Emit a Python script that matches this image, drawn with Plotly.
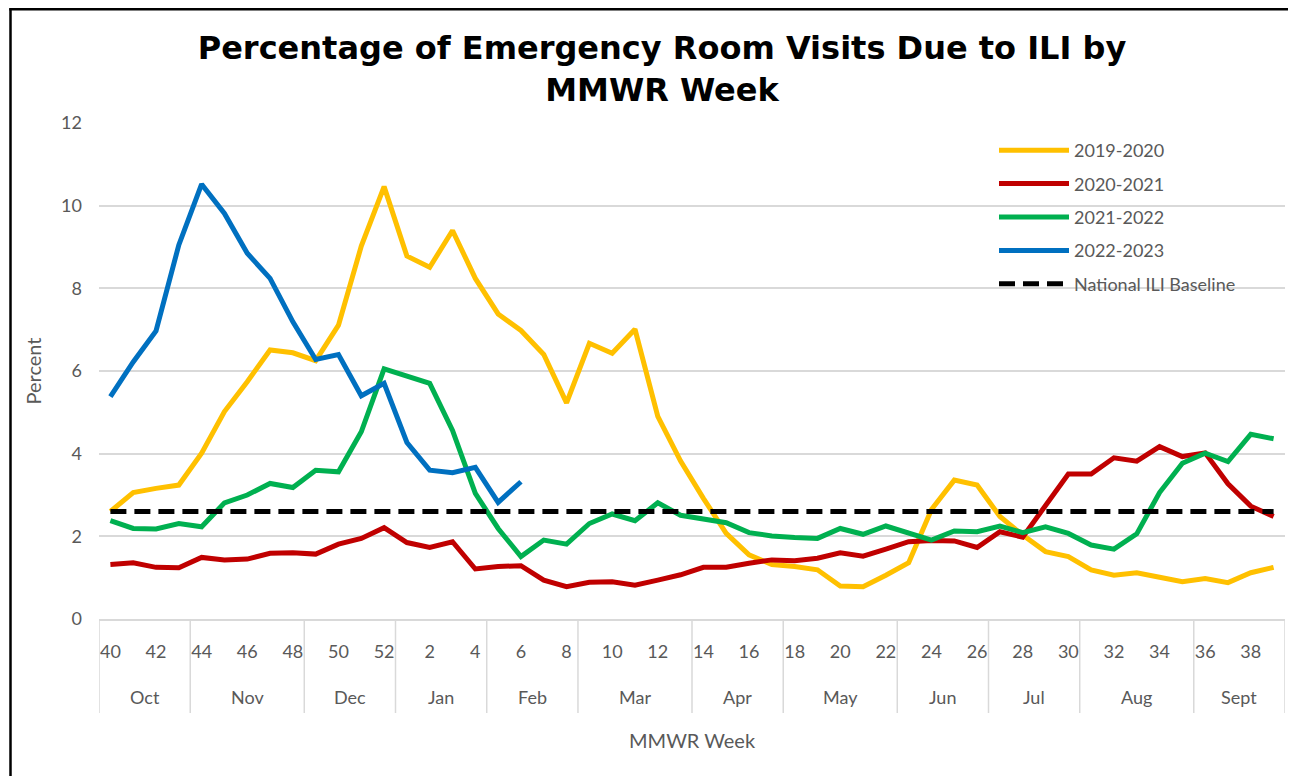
import plotly.graph_objects as go

weeks = [40, 41, 42, 43, 44, 45, 46, 47, 48, 49, 50, 51, 52] + list(range(1, 40))
months = ["Oct", "Nov", "Dec", "Jan", "Feb", "Mar", "Apr", "May", "Jun", "Jul", "Aug", "Sept"]
weeks_per_month = [4, 5, 4, 4, 4, 5, 4, 5, 4, 4, 5, 4]

s2019_2020 = [2.60, 3.06, 3.16, 3.24, 4.01, 5.02, 5.74, 6.51, 6.44, 6.25, 7.11, 9.02, 10.46,
              8.78, 8.51, 9.40, 8.24, 7.38, 6.98, 6.40, 5.23, 6.67, 6.43, 7.01, 4.90, 3.82,
              2.92, 2.07, 1.55, 1.32, 1.27, 1.19, 0.80, 0.78, 1.06, 1.36, 2.65, 3.36, 3.24,
              2.48, 2.03, 1.63, 1.51, 1.19, 1.06, 1.12, 1.01, 0.90, 0.98, 0.88, 1.12, 1.25]
s2020_2021 = [1.32, 1.36, 1.25, 1.24, 1.49, 1.43, 1.45, 1.59, 1.60, 1.57, 1.81, 1.95, 2.21,
              1.85, 1.73, 1.87, 1.21, 1.27, 1.29, 0.94, 0.78, 0.89, 0.90, 0.82, 0.94, 1.07,
              1.25, 1.25, 1.35, 1.43, 1.41, 1.47, 1.60, 1.52, 1.69, 1.87, 1.90, 1.89, 1.73,
              2.11, 1.98, 2.73, 3.51, 3.51, 3.90, 3.82, 4.17, 3.93, 4.02, 3.27, 2.73, 2.48]
s2021_2022 = [2.38, 2.19, 2.18, 2.31, 2.23, 2.81, 3.00, 3.28, 3.18, 3.60, 3.56, 4.53, 6.05,
              5.88, 5.70, 4.56, 3.04, 2.19, 1.51, 1.91, 1.81, 2.31, 2.54, 2.38, 2.81, 2.51,
              2.42, 2.33, 2.09, 2.01, 1.97, 1.95, 2.19, 2.05, 2.25, 2.07, 1.91, 2.13, 2.11,
              2.25, 2.09, 2.23, 2.07, 1.79, 1.69, 2.06, 3.06, 3.77, 4.01, 3.81, 4.47, 4.36]
s2022_2023 = [5.38, 6.22, 6.97, 9.05, 10.52, 9.81, 8.85, 8.24, 7.19, 6.28, 6.40, 5.40, 5.70,
              4.27, 3.60, 3.54, 3.67, 2.82, 3.32]
baseline_value = 2.6

idx = list(range(len(weeks)))
gray = "#595959"
axis_font = "Lato, Open Sans, sans-serif"

series = [
    ("2019-2020", s2019_2020, "#FFC000", None),
    ("2020-2021", s2020_2021, "#C00000", None),
    ("2021-2022", s2021_2022, "#00B050", None),
    ("2022-2023", s2022_2023, "#0070C0", None),
    ("National ILI Baseline", [baseline_value] * len(weeks), "#000000", "16px,8px"),
]

fig = go.Figure()
for name, vals, color, dash in series:
    fig.add_trace(go.Scatter(
        x=idx[:len(vals)], y=vals, mode="lines", name=name, legendgroup=name,
        line=dict(color=color, width=5, dash=dash),
    ))

# page offset (body margin) of 8px; figure sized to avoid scrollbars
OFF = 8
W, H = 1280, 768
PL, PR, PT, PB = 99, 1285, 123, 619  # plot area in page pixels
L, T = PL - OFF, PT - OFF
R = W - (PR - OFF)
B = H - (PB - OFF)
pw, ph = PR - PL, PB - PT

def py_paper(py):
    return (PB - py) / ph

def px_paper(px):
    return (px - PL) / pw

shapes = []
annotations = []
start = 0
bounds = [0]
for m, n in zip(months, weeks_per_month):
    annotations.append(dict(x=start + (n - 1) / 2, y=py_paper(697), xref="x", yref="paper",
                            text=m, showarrow=False, yanchor="middle",
                            font=dict(size=18, color=gray, family=axis_font)))
    start += n
    bounds.append(start)
for b in bounds:
    shapes.append(dict(type="line", xref="x", yref="paper", x0=b - 0.5, x1=b - 0.5,
                       y0=0, y1=py_paper(713), line=dict(color="#d9d9d9", width=1.5)))

# outer chart border: left and top edges are visible
border = dict(color="#000000", width=2.5)
shapes.append(dict(type="line", xref="paper", yref="paper",
                   x0=px_paper(10.5), x1=px_paper(10.5),
                   y0=py_paper(800), y1=py_paper(8.2), line=border, layer="below"))
shapes.append(dict(type="line", xref="paper", yref="paper",
                   x0=px_paper(9.3), x1=px_paper(1320),
                   y0=py_paper(9.3), y1=py_paper(9.3), line=border, layer="below"))

annotations.append(dict(x=0.5, y=py_paper(740), xref="paper", yref="paper",
                        text="MMWR Week", showarrow=False, yanchor="middle",
                        font=dict(size=20, color=gray, family=axis_font)))

tickvals = idx[::2]
ticktext = [str(w) for w in weeks[::2]]

fig.update_layout(
    width=W, height=H,
    margin=dict(l=L, r=R, t=T, b=B),
    paper_bgcolor="white", plot_bgcolor="white",
    title=dict(text="Percentage of Emergency Room Visits Due to ILI by<br>MMWR Week",
               x=(662 - OFF) / W, xref="container", xanchor="center",
               y=1 - (59 - OFF) / H, yref="container", yanchor="middle",
               font=dict(family="DejaVu Sans, Verdana, sans-serif", size=32, color="black",
                         weight="bold")),
    xaxis=dict(range=[-0.5, len(weeks) - 0.5], tickmode="array", tickvals=tickvals,
               ticktext=ticktext, showgrid=False, zeroline=False, showline=True,
               linecolor="#d9d9d9", linewidth=1.5, ticks="", ticklabelstandoff=16,
               tickfont=dict(size=18, color=gray, family=axis_font)),
    yaxis=dict(range=[0, 12], dtick=2, showgrid=True, gridcolor="#d9d9d9", gridwidth=1.5,
               zeroline=False, showline=False, ticks="", ticklabelstandoff=16,
               tickfont=dict(size=18, color=gray, family=axis_font),
               title=dict(text="Percent", standoff=14,
                          font=dict(size=20, color=gray, family=axis_font))),
    legend=dict(x=px_paper(994), y=py_paper(132), xanchor="left", yanchor="top",
                bgcolor="rgba(0,0,0,0)", traceorder="grouped", tracegroupgap=7,
                itemwidth=70, font=dict(size=18, color=gray, family=axis_font)),
    shapes=shapes,
    annotations=annotations,
    showlegend=True,
)

fig.write_html("out.html")
